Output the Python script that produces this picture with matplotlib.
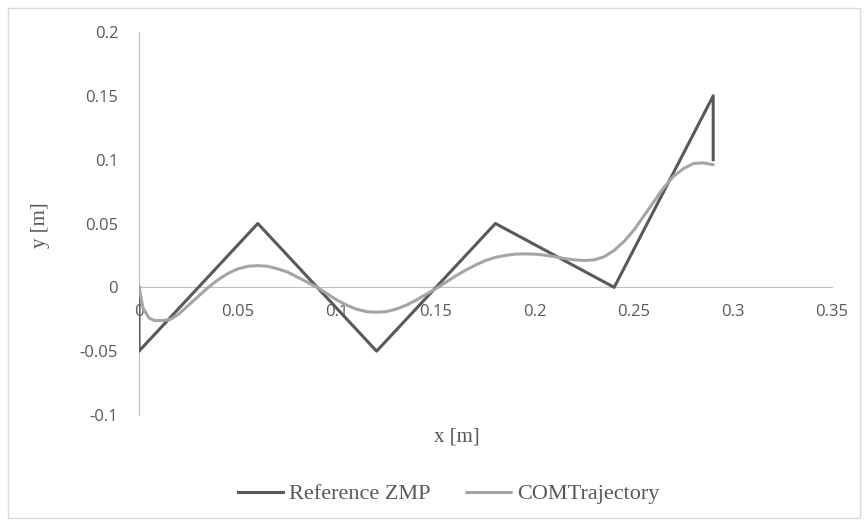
import matplotlib.pyplot as plt

# Reference ZMP (piecewise linear)
zmp_x = [0.0, 0.0, 0.06, 0.12, 0.18, 0.24, 0.29, 0.29]
zmp_y = [0.0, -0.05, 0.05, -0.05, 0.05, 0.0, 0.15, 0.10]

# COM trajectory
com_x = [0.0, 0.002, 0.005, 0.008, 0.012, 0.016, 0.02, 0.025, 0.03, 0.035,
         0.04, 0.045, 0.05, 0.055, 0.06, 0.065, 0.07, 0.075, 0.08, 0.085, 0.09,
         0.095, 0.1, 0.105, 0.11, 0.115, 0.12, 0.125, 0.13, 0.135, 0.14, 0.145,
         0.15, 0.155, 0.16, 0.165, 0.17, 0.175, 0.18, 0.185, 0.19, 0.195, 0.2,
         0.205, 0.21, 0.215, 0.22, 0.225, 0.23, 0.235, 0.24, 0.245, 0.25,
         0.255, 0.26, 0.265, 0.27, 0.275, 0.28, 0.285, 0.29]
com_y = [0.0, -0.016, -0.024, -0.026, -0.026, -0.025, -0.021, -0.014, -0.007,
         0.0, 0.006, 0.011, 0.0145, 0.0165, 0.017, 0.0165, 0.0145, 0.012,
         0.008, 0.004, 0.0, -0.005, -0.01, -0.014, -0.0172, -0.019, -0.0195,
         -0.019, -0.017, -0.014, -0.01, -0.0055, -0.001, 0.004, 0.009, 0.0135,
         0.0175, 0.021, 0.0235, 0.025, 0.026, 0.0262, 0.026, 0.0252, 0.024,
         0.0225, 0.0215, 0.021, 0.0215, 0.024, 0.029, 0.036, 0.045, 0.056,
         0.067, 0.078, 0.087, 0.093, 0.097, 0.0975, 0.096]

x_ticks = [0, 0.05, 0.1, 0.15, 0.2, 0.25, 0.3, 0.35]
x_labels = ["0", "0.05", "0.1", "0.15", "0.2", "0.25", "0.3", "0.35"]
y_ticks = [-0.1, -0.05, 0, 0.05, 0.1, 0.15, 0.2]
y_labels = ["-0.1", "-0.05", "0", "0.05", "0.1", "0.15", "0.2"]

W, H = 868, 526
fig = plt.figure(figsize=(W / 100, H / 100), dpi=100)
ax = fig.add_axes([139 / W, 1 - 415 / H, (832 - 139) / W, (415 - 32) / H])

# light outer border like the Excel chart area
fig.patches.append(plt.Rectangle((8 / W, 8 / H), 852 / W, 510 / H,
                                 transform=fig.transFigure, fill=False,
                                 edgecolor="#d9d9d9", linewidth=1))

ax.plot(zmp_x, zmp_y, color="#595959", linewidth=2.2, label="Reference ZMP")
ax.plot(com_x, com_y, color="#a5a5a5", linewidth=2.2, label="COMTrajectory",
        solid_capstyle="round", solid_joinstyle="round")

ax.set_xlim(0, 0.35)
ax.set_ylim(-0.1, 0.2)

for s in ["top", "right"]:
    ax.spines[s].set_visible(False)
ax.spines["left"].set_position(("data", 0))
ax.spines["bottom"].set_position(("data", 0))
ax.spines["left"].set_color("#bfbfbf")
ax.spines["bottom"].set_color("#bfbfbf")
ax.spines["left"].set_zorder(0)
ax.spines["bottom"].set_zorder(0)

ax.set_xticks(x_ticks)
ax.set_xticklabels(x_labels)
ax.set_yticks(y_ticks)
ax.set_yticklabels(y_labels)
ax.tick_params(axis="x", length=0, pad=12, labelsize=12, labelcolor="#595959")
ax.tick_params(axis="y", length=0, pad=15, labelsize=12, labelcolor="#595959")
for lab in ax.get_xticklabels() + ax.get_yticklabels():
    lab.set_fontfamily("Open Sans")

fig.text(457 / W, 1 - 437 / H, "x [m]", ha="center", va="center",
         fontsize=15, family="Liberation Serif", color="#595959")
fig.text(40 / W, 1 - 225 / H, "y [m]", ha="center", va="center", rotation=90,
         fontsize=15, family="Liberation Serif", color="#595959")

leg = fig.legend(loc="center", bbox_to_anchor=(449 / W, 1 - 494 / H), ncol=2,
                 frameon=False, prop={"family": "Liberation Serif", "size": 16},
                 handlelength=2.0, handletextpad=0.3, columnspacing=1.6,
                 labelcolor="#595959")

fig.savefig("out.png", dpi=100)
